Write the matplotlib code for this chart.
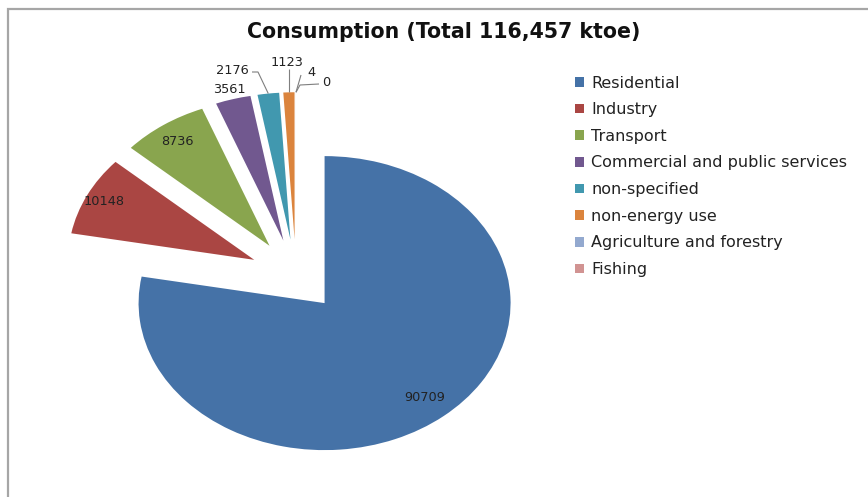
import numpy as np
import matplotlib
matplotlib.use('Agg')
import matplotlib.pyplot as plt
from matplotlib.patches import Rectangle

categories = ['Residential', 'Industry', 'Transport', 'Commercial and public services',
              'non-specified', 'non-energy use', 'Agriculture and forestry', 'Fishing']
values = [90709, 10148, 8736, 3561, 2176, 1123, 4, 0]
colors = ['#4572A7', '#AA4643', '#89A54E', '#71588F', '#4198AF', '#DB843D', '#93A9CF', '#D19392']
title = 'Consumption (Total 116,457 ktoe)'

W, H = 868, 497
fig = plt.figure(figsize=(W / 100, H / 100), dpi=100)
fig.patch.set_facecolor('white')

# pixel geometry of the (horizontally stretched) pie
cx_px, cy_px, rx_px, ry_px = 296, 276, 186, 147
ax = fig.add_axes([0, 0, 1, 1])
explode = [0.24, 0.25, 0.25, 0.25, 0.25, 0.25, 0.25, 0.25]
wedges, _ = ax.pie(values, colors=colors, startangle=90, counterclock=False,
                   explode=explode, radius=1.0)
ax.set_aspect('auto')
ax.set_xlim(-cx_px / rx_px, (W - cx_px) / rx_px)
ax.set_ylim(-(H - cy_px) / ry_px, cy_px / ry_px)
ax.axis('off')


def px2d(x, y):
    return ((x - cx_px) / rx_px, (cy_px - y) / ry_px)


def mid(w):
    return np.deg2rad((w.theta1 + w.theta2) / 2)


def point(w, r):
    a = mid(w)
    c = w.center
    return (c[0] + r * np.cos(a), c[1] + r * np.sin(a))


lab_kw = dict(fontsize=9.3, color='#222222', ha='center', va='center')
# inside / near labels
for i, r in [(0, 0.84), (1, 0.9), (2, 0.865), (3, 1.07)]:
    x, y = point(wedges[i], r)
    ax.text(x, y, f'{values[i]}', **lab_kw)

line_kw = dict(color='#7f7f7f', lw=0.8, solid_capstyle='butt')
# non-specified with leader
p0 = point(wedges[4], 1.0)
k1 = px2d(258, 72)
k2 = px2d(252, 72)
ax.plot([p0[0], k1[0], k2[0]], [p0[1], k1[1], k2[1]], **line_kw)
tx, ty = px2d(232, 71)
ax.text(tx, ty, f'{values[4]}', **lab_kw)
# non-energy use
p0 = point(wedges[5], 1.0)
k1 = (p0[0], px2d(0, 69)[1])
ax.plot([p0[0], k1[0]], [p0[1], k1[1]], **line_kw)
tx, ty = px2d(287, 62)
ax.text(tx, ty, f'{values[5]}', **lab_kw)
# agriculture
p0 = point(wedges[6], 1.0)
k1 = px2d(301, 75)
ax.plot([p0[0], k1[0]], [p0[1], k1[1]], **line_kw)
tx, ty = px2d(311, 72)
ax.text(tx, ty, f'{values[6]}', **lab_kw)
# fishing
p0 = point(wedges[7], 1.0)
k1 = px2d(300, 85)
k2 = px2d(319, 84)
ax.plot([p0[0], k1[0], k2[0]], [p0[1], k1[1], k2[1]], **line_kw)
tx, ty = px2d(326, 83)
ax.text(tx, ty, f'{values[7]}', **lab_kw)

# legend
leg = ax.legend(wedges, categories, loc='upper left',
                bbox_to_anchor=(575 / W, 1 - 75.5 / H), bbox_transform=fig.transFigure,
                frameon=False, fontsize=11.5, handlelength=0.55, handleheight=0.55,
                handletextpad=0.48, labelspacing=0.73, borderpad=0, borderaxespad=0)
for t in leg.get_texts():
    t.set_color('#222222')

# title
fig.text(444 / W, 1 - 32 / H, title, ha='center', va='center', fontsize=14.8,
         fontweight='bold', color='#111111')

# frame
fig.patches.append(Rectangle((7.5 / W, -0.1), 1.2, (H - 8.5) / H + 0.1,
                             transform=fig.transFigure, fill=False,
                             edgecolor='#a6a6a6', lw=1.6, zorder=0))

fig.savefig('out.png', dpi=100)
